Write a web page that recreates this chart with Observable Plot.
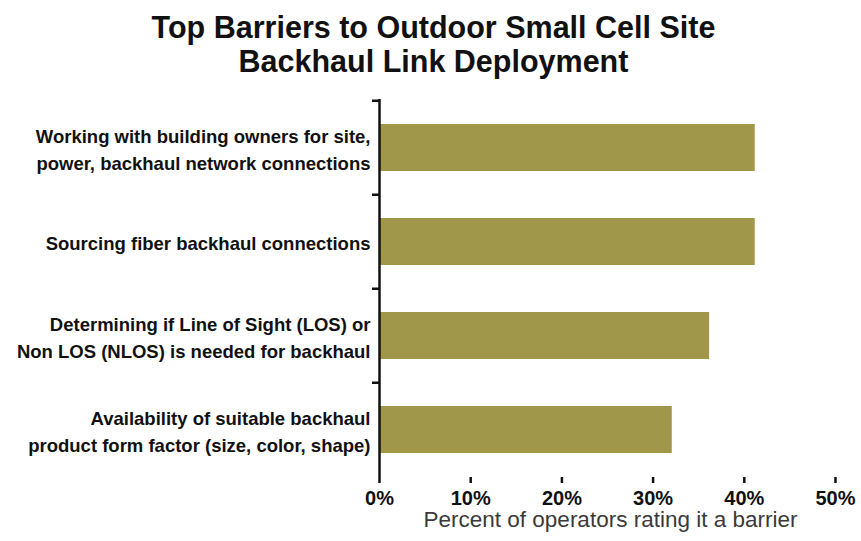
<!DOCTYPE html>
<html>
<head>
<meta charset="utf-8">
<script src="https://cdn.jsdelivr.net/npm/d3@7"></script>
<script src="https://cdn.jsdelivr.net/npm/@observablehq/plot@0.6"></script>
<style>
  html, body { margin: 0; padding: 0; background: #fff; }
  body { width: 861px; height: 541px; overflow: hidden; font-family: "Liberation Sans", Arial, sans-serif; }
  #title { height: 88px; text-align: center; font-weight: bold; font-size: 30.5px; line-height: 34px; padding-top: 10px; box-sizing: border-box; color: #111; padding-left: 6px; }
  #chart svg { display: block; }
</style>
</head>
<body>
<div id="title">Top Barriers to Outdoor Small Cell Site<br>Backhaul Link Deployment</div>
<div id="chart"></div>
<script>
const categories = [
  "Working with building owners for site,\npower, backhaul network connections",
  "Sourcing fiber backhaul connections",
  "Determining if Line of Sight (LOS) or\nNon LOS (NLOS) is needed for backhaul",
  "Availability of suitable backhaul\nproduct form factor (size, color, shape)"
];
const values = [41.2, 41.2, 36.2, 32.1];
const xTicks = [0, 10, 20, 30, 40, 50];
const xLabel = "Percent of operators rating it a barrier";
const barColor = "#a0974a";

const data = categories.map((c, i) => ({category: c, value: values[i]}));

const marginTop = 11, marginBottom = 64, plotH = 378;
const step = plotH / categories.length;

const chart = Plot.plot({
  width: 861,
  height: marginTop + plotH + marginBottom,
  marginTop,
  marginBottom,
  marginLeft: 379,
  marginRight: 26,
  style: {fontFamily: "Liberation Sans, Arial, sans-serif", color: "#111", background: "#fff"},
  x: {domain: [0, 50], ticks: xTicks, label: null},
  y: {domain: categories, paddingInner: 0.5, paddingOuter: 0.25, label: null},
  marks: [
    Plot.barX(data, {x: "value", y: "category", fill: barColor}),
    // y-axis boundary ticks (at top of each band)
    Plot.axisY({tickSize: 7, dy: -step / 2, tickFormat: () => "", stroke: "#111", strokeWidth: 2.5}),
    // y labels
    Plot.axisY({tickSize: 0, tickPadding: 9, fontSize: 18.5, fontWeight: "bold", lineHeight: 1.42, label: null, fill: "#111"}),
    Plot.axisX({ticks: xTicks, tickSize: 6, tickPadding: 7, tickFormat: d => d + "%", fontSize: 20, fontWeight: "bold", stroke: "#111", strokeWidth: 2.5, label: null, fill: "#111"}),
    Plot.ruleX([0], {stroke: "#111", strokeWidth: 2.5}),
    Plot.ruleY([0], {stroke: "#111", strokeWidth: 2.5}),
    Plot.text([xLabel], {frameAnchor: "bottom", dx: 3, dy: 49, fontSize: 22.5, fill: "#3a3a3a"})
  ]
});
document.getElementById("chart").appendChild(chart);
</script>
</body>
</html>
